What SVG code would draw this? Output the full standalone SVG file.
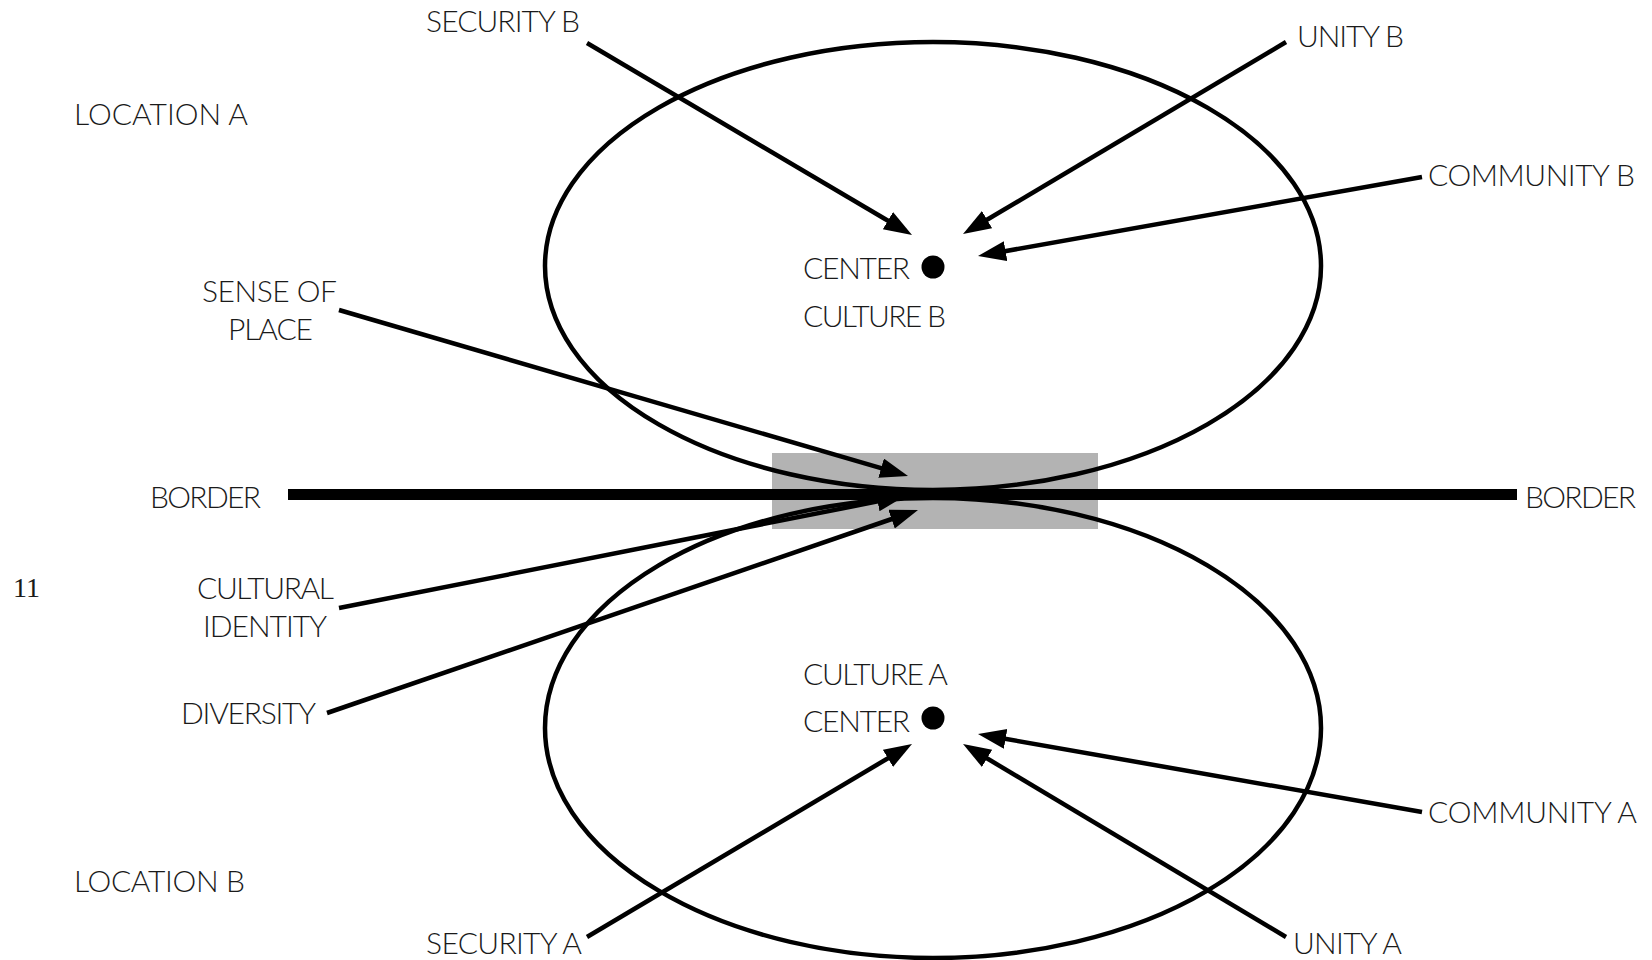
<svg xmlns="http://www.w3.org/2000/svg" width="1652" height="960" viewBox="0 0 1652 960">
<style>
.lbl{font-family:Lato,"Open Sans","Liberation Sans",sans-serif;font-weight:300;font-size:30px;fill:#1a1a1a}
.num{font-family:"Liberation Serif",serif;font-size:28px;fill:#1a1a1a}
.ell{fill:none;stroke:#000;stroke-width:4.5}
.arr{fill:none;stroke:#000;stroke-width:4.5;marker-end:url(#ah)}
</style>
<defs>
<marker id="ah" markerUnits="userSpaceOnUse" markerWidth="30" markerHeight="22" refX="8" refY="10" orient="auto">
<path d="M0,0 L28,10 L0,20 z" fill="#000"/>
</marker>
</defs>
<rect width="1652" height="960" fill="#fff"/>
<g id="zone"><rect x="772" y="453" width="326" height="76" fill="#b3b3b3"/></g>
<g id="border-line"><line x1="288" y1="494.5" x2="1517" y2="494.5" stroke="#000" stroke-width="11"/></g>
<g id="ellipse-b"><ellipse class="ell" cx="933" cy="266" rx="388" ry="224"/></g>
<g id="ellipse-a"><ellipse class="ell" cx="933" cy="728" rx="388" ry="230"/></g>
<g id="center-b"><circle cx="933" cy="267" r="11.5" fill="#000"/><text class="lbl" x="803" y="279" textLength="107" lengthAdjust="spacing">CENTER</text></g>
<g id="culture-b"><text class="lbl" x="803" y="327" textLength="143" lengthAdjust="spacing">CULTURE B</text></g>
<g id="center-a"><circle cx="933" cy="718" r="11.5" fill="#000"/><text class="lbl" x="803" y="732" textLength="107" lengthAdjust="spacing">CENTER</text></g>
<g id="culture-a"><text class="lbl" x="803" y="685" textLength="145" lengthAdjust="spacing">CULTURE A</text></g>
<g id="connectors">
<line class="arr" x1="587" y1="43" x2="894.8" y2="224.8"/>
<line class="arr" x1="1286" y1="42" x2="980.2" y2="223.8"/>
<line class="arr" x1="1422" y1="177" x2="997.7" y2="252.5"/>
<line class="arr" x1="339" y1="310" x2="888.8" y2="470.4"/>
<line class="arr" x1="339" y1="608" x2="885.4" y2="499.9"/>
<line class="arr" x1="327" y1="713" x2="899.1" y2="516.5"/>
<line class="arr" x1="587" y1="937" x2="894.8" y2="754.2"/>
<line class="arr" x1="1286" y1="937" x2="980.2" y2="754.3"/>
<line class="arr" x1="1422" y1="812" x2="997.7" y2="737.5"/>
</g>
<g id="security-b"><text class="lbl" x="426" y="32" textLength="154" lengthAdjust="spacing">SECURITY B</text></g>
<g id="location-a"><text class="lbl" x="74" y="125" textLength="174" lengthAdjust="spacing">LOCATION A</text></g>
<g id="unity-b"><text class="lbl" x="1297" y="47" textLength="107" lengthAdjust="spacing">UNITY B</text></g>
<g id="community-b"><text class="lbl" x="1428" y="186" textLength="207" lengthAdjust="spacing">COMMUNITY B</text></g>
<g id="sense-of-place"><text class="lbl" x="202" y="302" textLength="135" lengthAdjust="spacing">SENSE OF</text><text class="lbl" x="228" y="340" textLength="85" lengthAdjust="spacing">PLACE</text></g>
<g id="border-left"><text class="lbl" x="150" y="508" textLength="111" lengthAdjust="spacing">BORDER</text></g>
<g id="border-right"><text class="lbl" x="1525" y="508" textLength="111" lengthAdjust="spacing">BORDER</text></g>
<g id="page-num"><text class="num" x="13" y="597">11</text></g>
<g id="cultural-identity"><text class="lbl" x="197" y="599" textLength="137" lengthAdjust="spacing">CULTURAL</text><text class="lbl" x="203" y="637" textLength="124" lengthAdjust="spacing">IDENTITY</text></g>
<g id="diversity"><text class="lbl" x="181" y="724" textLength="135" lengthAdjust="spacing">DIVERSITY</text></g>
<g id="community-a"><text class="lbl" x="1428" y="823" textLength="209" lengthAdjust="spacing">COMMUNITY A</text></g>
<g id="location-b"><text class="lbl" x="74" y="892" textLength="171" lengthAdjust="spacing">LOCATION B</text></g>
<g id="security-a"><text class="lbl" x="426" y="954" textLength="156" lengthAdjust="spacing">SECURITY A</text></g>
<g id="unity-a"><text class="lbl" x="1293" y="954" textLength="109" lengthAdjust="spacing">UNITY A</text></g>
</svg>
